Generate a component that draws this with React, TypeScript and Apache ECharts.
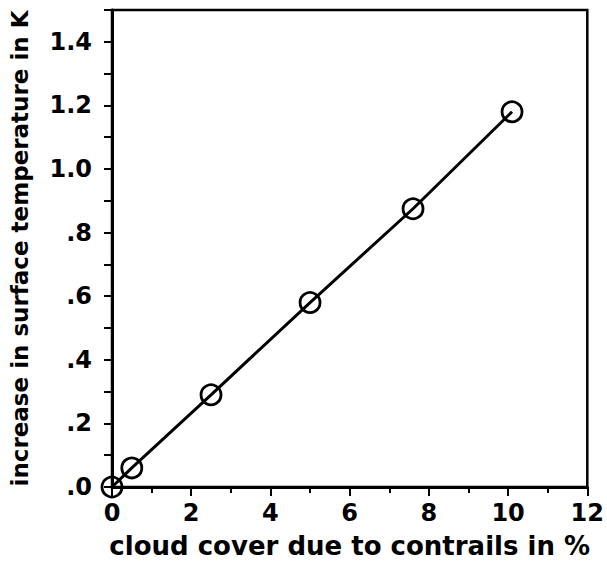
import React, { useEffect, useRef } from "react";
import * as echarts from "echarts";

const cloudCover = [0, 0.5, 2.5, 5, 7.6, 10.1];
const tempIncrease = [0, 0.06, 0.29, 0.58, 0.875, 1.18];
const yTickValues = [0, 0.2, 0.4, 0.6, 0.8, 1.0, 1.2, 1.4];
const yTickLabels = [".0", ".2", ".4", ".6", ".8", "1.0", "1.2", "1.4"];
const xTitle = "cloud cover due to contrails in %";
const yTitle = "increase in surface temperature in K";

export default function App() {
  const ref = useRef<HTMLDivElement>(null);
  useEffect(() => {
    if (!ref.current) return;
    const chart = echarts.init(ref.current, null, { renderer: "svg" });
    const font = "DejaVu Sans";
    chart.setOption({
      animation: false,
      backgroundColor: "#fff",
      grid: {
        left: 111,
        top: 10,
        right: 16,
        bottom: 79,
        show: true,
        borderColor: "#000",
        borderWidth: 2.5,
      },
      xAxis: {
        type: "value",
        min: 0,
        max: 12,
        interval: 2,
        name: xTitle,
        nameLocation: "middle",
        nameGap: 46,
        nameTextStyle: { fontFamily: font, fontWeight: "bold", fontSize: 26, color: "#000" },
        axisLine: { show: true, lineStyle: { color: "#000", width: 3 } },
        axisTick: { show: true, length: 9, lineStyle: { color: "#000", width: 2 } },
        minorTick: { show: true, splitNumber: 2, length: 6, lineStyle: { color: "#000", width: 2 } },
        splitLine: { show: false },
        axisLabel: { fontFamily: font, fontWeight: "bold", fontSize: 24, color: "#000", margin: 14 },
      },
      yAxis: {
        type: "value",
        min: 0,
        max: 1.5,
        interval: 0.1,
        name: yTitle,
        nameLocation: "middle",
        nameRotate: 90,
        nameGap: 81,
        nameTextStyle: { fontFamily: font, fontWeight: "bold", fontSize: 23, color: "#000" },
        axisLine: { show: true, lineStyle: { color: "#000", width: 3 } },
        axisTick: { show: true, length: 8, lineStyle: { color: "#000", width: 2 } },
        splitLine: { show: false },
        axisLabel: {
          fontFamily: font,
          fontWeight: "bold",
          fontSize: 24,
          color: "#000",
          margin: 20,
          customValues: yTickValues,
          formatter: (v: number) => {
            const i = yTickValues.findIndex((t) => Math.abs(t - v) < 1e-6);
            return i >= 0 ? yTickLabels[i] : "";
          },
        },
      },
      series: [
        {
          type: "line",
          data: cloudCover.map((x, i) => [x, tempIncrease[i]]),
          symbol: "circle",
          symbolSize: 20,
          showAllSymbol: true,
          lineStyle: { color: "#000", width: 3 },
          itemStyle: { color: "rgba(255,255,255,0)", borderColor: "#000", borderWidth: 2.8 },
          z: 3,
        },
      ],
    });
    return () => chart.dispose();
  }, []);
  return (
    <div
      ref={ref}
      style={{ position: "absolute", left: 0, top: 0, width: 607, height: 566 }}
    />
  );
}
